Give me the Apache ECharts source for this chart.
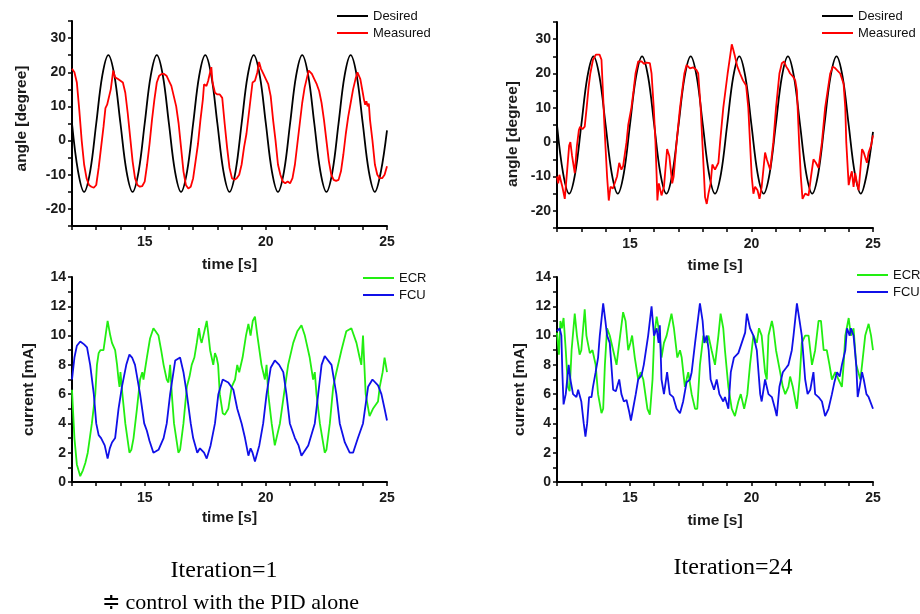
<!DOCTYPE html>
<html><head><meta charset="utf-8">
<script src="https://cdn.jsdelivr.net/npm/echarts@6/dist/echarts.min.js"></script>
<style>html,body{margin:0;padding:0;background:#fff}#c{width:920px;height:614px}</style>
</head><body><div id="c"></div>
<script>
// Desired trajectory (same for both iterations), sampled every 0.25 s
const desiredT = [12,12.25,12.5,12.75,13,13.25,13.5,13.75,14,14.25,14.5,14.75,15,15.25,15.5,15.75,16,16.25,16.5,16.75,17,17.25,17.5,17.75,18,18.25,18.5,18.75,19,19.25,19.5,19.75,20,20.25,20.5,20.75,21,21.25,21.5,21.75,22,22.25,22.5,22.75,23,23.25,23.5,23.75,24,24.25,24.5,24.75,25];
const desiredV = [5,-9,-15,-9,5,19,25,19, 5,-9,-15,-9,5,19,25,19, 5,-9,-15,-9,5,19,25,19, 5,-9,-15,-9,5,19,25,19, 5,-9,-15,-9,5,19,25,19, 5,-9,-15,-9,5,19,25,19, 5,-9,-15,-9,3];

// Iteration 1 measured angle [t, deg]
const measured1 = [[12.0,21],[12.1,20],[12.2,17],[12.3,9],[12.4,0],[12.5,-7],[12.6,-11],[12.7,-13],[12.8,-13.5],[12.9,-13.8],[13.0,-13],[13.1,-8],[13.2,-2],[13.3,4],[13.38,9.5],[13.45,10.5],[13.52,11],[13.6,15],[13.7,20.5],[13.78,18.5],[13.9,18],[14.0,17.5],[14.1,17],[14.2,14],[14.3,8],[14.4,1],[14.5,-6],[14.6,-11],[14.7,-13],[14.8,-13.5],[14.9,-13.3],[15.0,-12],[15.1,-7],[15.2,-1],[15.3,6],[15.4,12],[15.5,17],[15.6,19],[15.7,19.5],[15.8,19.5],[15.9,19],[16.0,17.5],[16.1,16],[16.2,13],[16.3,10],[16.4,5],[16.5,-2],[16.6,-9],[16.7,-13],[16.8,-14],[16.9,-13.5],[17.0,-11],[17.1,-6],[17.2,-1],[17.3,6],[17.4,12],[17.45,16.5],[17.55,16],[17.62,17.5],[17.7,20],[17.75,21.5],[17.8,17],[17.9,14],[18.0,13.5],[18.1,13.5],[18.2,12.5],[18.3,5],[18.4,-2],[18.5,-8],[18.6,-11],[18.7,-11.5],[18.8,-11],[18.9,-10],[19.0,-7],[19.1,-2],[19.2,2],[19.3,8],[19.4,14],[19.45,17],[19.55,17.5],[19.65,20],[19.72,23],[19.8,21],[19.9,19.5],[20.0,18],[20.1,16.5],[20.2,13],[20.3,6],[20.4,0],[20.5,-7],[20.6,-10],[20.7,-12],[20.8,-12.5],[20.9,-12],[21.0,-12.5],[21.1,-11],[21.2,-7],[21.3,-1],[21.4,5],[21.5,11],[21.6,15.5],[21.7,18.5],[21.77,20.5],[21.9,19.5],[22.0,18],[22.1,16.5],[22.2,14.5],[22.3,11],[22.4,6],[22.5,0],[22.6,-6],[22.7,-10],[22.8,-11.5],[22.9,-11.8],[23.0,-11.5],[23.1,-9],[23.2,-4],[23.3,2],[23.4,7],[23.5,11],[23.6,15],[23.7,18],[23.78,20],[23.9,18],[24.0,14],[24.05,12],[24.1,10.5],[24.15,11.5],[24.2,10],[24.25,10.8],[24.3,6],[24.4,0],[24.5,-7],[24.6,-10],[24.7,-11],[24.8,-11],[24.9,-10],[25.0,-7.5]];

// Iteration 24 measured angle [t, deg]
const measured24 = [[12.0,-10],[12.05,-12],[12.1,-9.5],[12.15,-11],[12.22,-13],[12.32,-16.5],[12.42,-8],[12.5,-1],[12.55,0],[12.62,-4],[12.73,-9],[12.82,-1],[12.9,3.5],[12.95,4.5],[13.05,3.8],[13.14,4.5],[13.22,10],[13.3,16],[13.37,20],[13.48,24],[13.6,25.5],[13.68,26],[13.75,25.5],[13.83,24],[13.9,13],[13.95,5],[14.0,-2],[14.06,-10],[14.13,-17],[14.2,-13],[14.3,-13.5],[14.38,-14],[14.47,-10],[14.56,-6],[14.65,-8],[14.72,-7],[14.86,0],[14.93,5],[15.06,10],[15.15,15],[15.23,20],[15.34,23.5],[15.48,23.5],[15.58,22.8],[15.68,23.2],[15.82,23],[15.89,20],[15.98,10],[16.05,0],[16.1,-10],[16.13,-17],[16.19,-12],[16.3,-15.5],[16.4,-13],[16.53,-2],[16.62,-4],[16.74,-12],[16.8,-10],[16.92,0],[17.06,10],[17.15,15],[17.24,20],[17.33,22.5],[17.47,21.5],[17.6,21.8],[17.74,21],[17.81,20],[17.91,10],[17.98,0],[18.05,-10],[18.09,-16],[18.16,-18],[18.23,-15],[18.32,-12],[18.39,-6.5],[18.5,-8],[18.64,-6],[18.71,0],[18.84,10],[19.02,20],[19.1,24],[19.19,28.5],[19.25,27],[19.32,25],[19.42,22],[19.53,20],[19.65,18],[19.78,16.5],[19.87,10],[19.94,0],[20.01,-10],[20.08,-15],[20.15,-13],[20.25,-14],[20.33,-16.5],[20.42,-13],[20.56,-3],[20.63,-5],[20.77,-8],[20.9,0],[21.01,10],[21.15,20],[21.25,23],[21.34,23.5],[21.43,22],[21.52,21],[21.59,20],[21.72,19],[21.8,18],[21.87,15],[21.96,0],[22.03,-10],[22.1,-16.5],[22.21,-15],[22.35,-15.5],[22.45,-10],[22.55,-5],[22.65,-6],[22.76,-7.5],[22.9,0],[23.03,10],[23.24,20],[23.35,22],[23.45,21.5],[23.52,21],[23.65,20],[23.72,19.5],[23.79,17],[23.86,10],[23.9,0],[24.0,-12.5],[24.07,-10],[24.13,-8.5],[24.2,-13],[24.27,-9],[24.34,-12],[24.41,-14],[24.48,-8],[24.55,-2],[24.62,-3],[24.75,-6],[24.82,-3],[24.92,-1],[25.0,2]];

// Iteration 1 currents [t, mA]
const ecr1 = [[12.0,6.3],[12.1,3],[12.2,1.2],[12.34,0.4],[12.45,0.8],[12.55,1.3],[12.65,2],[12.82,4],[12.96,6],[13.03,8],[13.1,8.8],[13.17,9],[13.3,9],[13.47,11],[13.58,10],[13.65,9.5],[13.78,9],[13.86,8],[13.92,7],[13.96,6.5],[14.0,7.5],[14.08,6],[14.2,4],[14.37,2],[14.45,2.2],[14.54,3],[14.68,5],[14.81,7],[14.9,7.5],[14.95,7],[15.09,8.5],[15.22,9.8],[15.36,10.5],[15.45,10.3],[15.57,10],[15.68,9],[15.78,8],[15.91,7],[15.98,6.8],[16.05,8],[16.12,6],[16.21,4],[16.39,2],[16.46,2.2],[16.6,4],[16.74,6.5],[16.85,7.2],[16.94,8],[17.05,8.5],[17.15,9.5],[17.24,10.5],[17.3,9.8],[17.35,9.5],[17.45,10.2],[17.56,11],[17.62,10.2],[17.7,9],[17.83,8],[17.9,8.8],[17.97,8.5],[18.03,8],[18.1,6],[18.22,4.7],[18.31,4.6],[18.45,5],[18.59,6.5],[18.73,7],[18.82,8],[18.9,7.5],[19.04,8.5],[19.18,10],[19.28,10.8],[19.37,10],[19.46,11],[19.55,11.3],[19.65,10],[19.82,8],[19.96,7],[20.03,8],[20.1,6],[20.24,4],[20.37,2.5],[20.44,2.5],[20.58,4],[20.79,6.5],[20.92,8],[21.13,9.5],[21.3,10.3],[21.47,10.7],[21.61,10],[21.81,8.5],[21.95,7],[22.02,7.5],[22.09,6],[22.23,4],[22.43,2],[22.5,2.2],[22.64,4],[22.78,6.5],[22.91,7.5],[23.12,9],[23.32,10.3],[23.53,10.5],[23.74,9.5],[23.87,8.5],[23.94,8],[24.01,10],[24.12,6],[24.28,4.5],[24.42,5],[24.63,5.5],[24.7,6.5],[24.82,7.5],[24.9,8.5],[25.0,7.5]];
const fcu1 = [[12.0,7],[12.1,8.5],[12.2,9.3],[12.34,9.6],[12.5,9.4],[12.62,9.2],[12.75,8],[12.9,6],[13.0,4],[13.1,3.2],[13.2,3],[13.28,3],[13.35,2.5],[13.47,1.6],[13.56,2.3],[13.65,2.7],[13.78,3],[13.92,5],[14.06,6.5],[14.24,8],[14.37,8.7],[14.48,8.5],[14.6,8],[14.81,6],[14.98,4],[15.09,3.5],[15.2,2.8],[15.36,2],[15.57,2.2],[15.78,3],[15.91,4],[16.05,6],[16.26,8.3],[16.46,8.5],[16.6,7.5],[16.74,6],[16.9,4],[17.0,3],[17.17,2],[17.28,2.3],[17.35,2.4],[17.45,2],[17.56,1.6],[17.72,2.5],[17.9,4],[18.04,6],[18.22,7],[18.45,6.8],[18.66,6.3],[18.82,5],[19.0,4],[19.14,3],[19.28,1.8],[19.37,2.3],[19.45,2],[19.55,1.4],[19.73,2.5],[19.89,4],[20.03,6],[20.2,7.8],[20.37,8.3],[20.55,8],[20.72,7.5],[20.85,6],[20.99,4],[21.2,3],[21.35,2.5],[21.47,1.8],[21.75,2.5],[22.02,4],[22.16,6],[22.3,8],[22.43,8.6],[22.71,8],[22.91,6],[23.05,4],[23.26,2.7],[23.46,2],[23.6,2],[23.8,3],[24.01,4],[24.22,6.5],[24.4,7],[24.63,6.6],[24.77,6],[24.9,5],[25.0,4.2]];

// Iteration 24 currents [t, mA]
const ecr24 = [[12.0,10.2],[12.08,8.7],[12.14,11],[12.2,10.5],[12.27,11.2],[12.36,9],[12.45,6.5],[12.52,6.2],[12.6,9],[12.73,11.5],[12.82,10],[12.93,8.7],[13.0,9],[13.14,11.8],[13.21,10],[13.35,8.8],[13.46,9],[13.59,8],[13.69,6],[13.83,4.7],[13.9,5],[13.97,8],[14.06,10.5],[14.17,10],[14.31,9],[14.45,8],[14.56,9.5],[14.72,11.6],[14.82,11],[14.93,9],[15.02,9.5],[15.09,10],[15.2,8.5],[15.34,7],[15.44,7.5],[15.55,7],[15.72,5],[15.82,4.6],[15.93,7],[16.0,10],[16.1,11.3],[16.23,10],[16.3,8.5],[16.4,9.5],[16.51,10],[16.71,11.5],[16.81,10.5],[16.95,8.5],[17.06,9],[17.13,8.5],[17.26,6.5],[17.4,7.5],[17.54,6],[17.68,5],[17.77,5],[17.88,8],[18.02,10],[18.16,9.5],[18.23,10],[18.36,9],[18.5,8],[18.64,10],[18.73,11.5],[18.84,10.5],[18.91,9],[19.05,6.5],[19.19,5],[19.32,4.5],[19.46,5.5],[19.56,6],[19.7,5],[19.83,6],[19.94,8],[20.08,10],[20.22,9.5],[20.31,10.5],[20.42,10],[20.56,7.5],[20.63,7],[20.7,10],[20.84,11],[20.9,10.5],[21.01,9],[21.18,7.5],[21.29,6.5],[21.39,6],[21.52,6.5],[21.59,7.2],[21.7,6.5],[21.87,5],[21.98,7],[22.07,9.5],[22.21,10],[22.35,10],[22.49,8],[22.62,9],[22.76,11],[22.86,11],[22.97,9],[23.1,9],[23.21,8],[23.31,7],[23.45,7.5],[23.58,7],[23.72,6.5],[23.79,8],[23.86,10],[24.0,11.2],[24.09,10],[24.2,10.5],[24.31,8],[24.48,7],[24.55,8],[24.68,10],[24.82,10.8],[24.92,10],[25.0,9]];
const fcu24 = [[12.0,10.3],[12.11,10.5],[12.18,10],[12.22,7.5],[12.27,5.3],[12.36,6],[12.48,8],[12.55,7],[12.66,6],[12.8,5.8],[12.87,6.3],[13.0,5.5],[13.1,4],[13.17,3.1],[13.24,4],[13.32,5.8],[13.42,5.8],[13.48,6.5],[13.59,7.5],[13.69,8.5],[13.76,10],[13.9,12.2],[13.99,11],[14.06,10],[14.17,9.5],[14.31,6.3],[14.42,6.2],[14.56,7],[14.65,6],[14.75,5.5],[14.86,5.6],[14.97,4.8],[15.04,4.2],[15.13,5],[15.24,6],[15.34,7],[15.48,7.3],[15.57,8],[15.75,10],[15.89,12],[15.99,10],[16.1,10.5],[16.18,9.5],[16.23,10.7],[16.3,7],[16.4,6],[16.53,7.5],[16.64,6],[16.78,5.8],[16.92,5],[17.06,4.7],[17.19,5.5],[17.33,6.8],[17.47,7],[17.54,7.5],[17.68,9.5],[17.88,12.2],[17.99,11],[18.06,9.5],[18.16,10],[18.24,9],[18.32,7],[18.46,6.3],[18.57,7],[18.68,6],[18.84,5.5],[18.91,5.8],[19.05,5],[19.15,7.5],[19.28,8.5],[19.46,8.8],[19.6,9.5],[19.74,10.2],[19.81,11.5],[19.94,10.5],[20.08,10],[20.22,9],[20.36,6],[20.42,5.5],[20.56,7],[20.7,6],[20.84,5.8],[20.97,5],[21.04,4.5],[21.15,6.5],[21.29,7.5],[21.43,7.8],[21.52,8],[21.66,9],[21.73,10],[21.87,12.2],[21.98,11],[22.07,10],[22.21,7],[22.31,6],[22.42,6.3],[22.55,7.5],[22.62,6],[22.76,5.8],[22.9,5.5],[23.03,4.5],[23.17,5],[23.31,6],[23.41,6.8],[23.52,7.5],[23.63,7.2],[23.72,8],[23.86,9],[23.93,10.5],[24.04,10],[24.09,10.5],[24.2,10],[24.31,8],[24.37,5.8],[24.45,6.5],[24.55,7.5],[24.62,7],[24.73,6],[24.82,5.8],[25.0,5]];

const captions = ['Iteration=1', 'Iteration=24', '\u2251 control with the PID alone'];

const desired = desiredT.map((t, i) => [t, desiredV[i]]);
const chart = echarts.init(document.getElementById('c'), null, {renderer: 'canvas'});
const FONT = 'Liberation Sans, Arial, sans-serif';
const SERIF = 'Liberation Serif, Times New Roman, serif';
const TXT = '#1a1a1a';

function xAx(gi, gap) {
  return {
    type: 'value', gridIndex: gi, min: 12, max: 25, interval: 1,
    name: 'time [s]', nameLocation: 'middle', nameGap: gap,
    nameTextStyle: {fontFamily: FONT, fontSize: 15.5, fontWeight: 'bold', color: TXT},
    axisLine: {onZero: false, lineStyle: {color: '#000', width: 2}},
    axisTick: {length: 4, lineStyle: {color: '#000', width: 1.5}},
    axisLabel: {margin: 9, fontFamily: FONT, fontSize: 14, fontWeight: 'bold', color: TXT,
      formatter: v => (v % 5 === 0 ? String(v) : '')},
    splitLine: {show: false}
  };
}
function yAx(gi, name, min, max, step, labStep, gap, pad) {
  return {
    type: 'value', gridIndex: gi, min: min, max: max, interval: step,
    name: name, nameLocation: 'middle', nameGap: gap,
    nameTextStyle: {fontFamily: FONT, fontSize: 15.5, fontWeight: 'bold', color: TXT, padding: pad},
    axisLine: {onZero: false, lineStyle: {color: '#000', width: 2}},
    axisTick: {length: 4, lineStyle: {color: '#000', width: 1.5}},
    axisLabel: {margin: 6, fontFamily: FONT, fontSize: 14, fontWeight: 'bold', color: TXT,
      formatter: v => (Math.abs(v % labStep) < 1e-9 ? String(v) : '')},
    splitLine: {show: false}
  };
}
function ln(name, gi, data, color, smooth) {
  return {type: 'line', name: name, xAxisIndex: gi, yAxisIndex: gi, data: data,
    symbol: 'none', showSymbol: false, smooth: smooth || false,
    lineStyle: {color: color, width: 1.8}, itemStyle: {color: color}, z: name.trim() === 'Desired' ? 2 : 3};
}
function lg(left, top, names) {
  return {left: left, top: top, orient: 'vertical', itemWidth: 31, itemHeight: 2, itemGap: 3,
    icon: 'rect', data: names, selectedMode: false, padding: 0,
    textStyle: {fontFamily: FONT, fontSize: 13, color: '#111', lineHeight: 14}};
}

chart.setOption({
  animation: false,
  backgroundColor: '#fff',
  grid: [
    {left: 72, top: 21, width: 315, height: 205},
    {left: 557, top: 22, width: 316, height: 206},
    {left: 72, top: 277, width: 315, height: 205},
    {left: 557, top: 277, width: 316, height: 205}
  ],
  xAxis: [xAx(0, 31), xAx(1, 30), xAx(2, 28), xAx(3, 31)],
  yAxis: [
    yAx(0, 'angle [degree]', -25, 35, 5, 10, 42, [0, 0, 0, 10]),
    yAx(1, 'angle [degree]', -25, 35, 5, 10, 36, [0, 18, 0, 0]),
    yAx(2, 'current [mA]', 0, 14, 1, 2, 35, [0, 20, 0, 0]),
    yAx(3, 'current [mA]', 0, 14, 1, 2, 29, [0, 20, 0, 0])
  ],
  legend: [
    lg(337, 9, [{name: 'Desired'}, {name: 'Measured'}]),
    lg(822, 9, [{name: 'Desired '}, {name: 'Measured '}]),
    lg(363, 271, [{name: 'ECR'}, {name: 'FCU'}]),
    lg(857, 268, [{name: 'ECR '}, {name: 'FCU '}])
  ],
  series: [
    ln('Desired', 0, desired, '#000', 0.35),
    ln('Measured', 0, measured1, '#ff0000'),
    ln('Desired ', 1, desired, '#000', 0.35),
    ln('Measured ', 1, measured24, '#ff0000'),
    ln('ECR', 2, ecr1, '#22ee11'),
    ln('FCU', 2, fcu1, '#1010e8'),
    ln('ECR ', 3, ecr24, '#22ee11'),
    ln('FCU ', 3, fcu24, '#1010e8')
  ],
  graphic: [
    {type: 'text', style: {text: captions[0], x: 224, y: 571, fontFamily: SERIF, fontSize: 24, fill: '#000', textAlign: 'center', textVerticalAlign: 'middle'}},
    {type: 'text', style: {text: captions[1], x: 733, y: 568, fontFamily: SERIF, fontSize: 24, fill: '#000', textAlign: 'center', textVerticalAlign: 'middle'}},
    {type: 'text', style: {text: captions[2], x: 102, y: 603, fontFamily: SERIF, fontSize: 22, fill: '#000', textAlign: 'left', textVerticalAlign: 'middle'}}
  ]
});
</script>
</body></html>
